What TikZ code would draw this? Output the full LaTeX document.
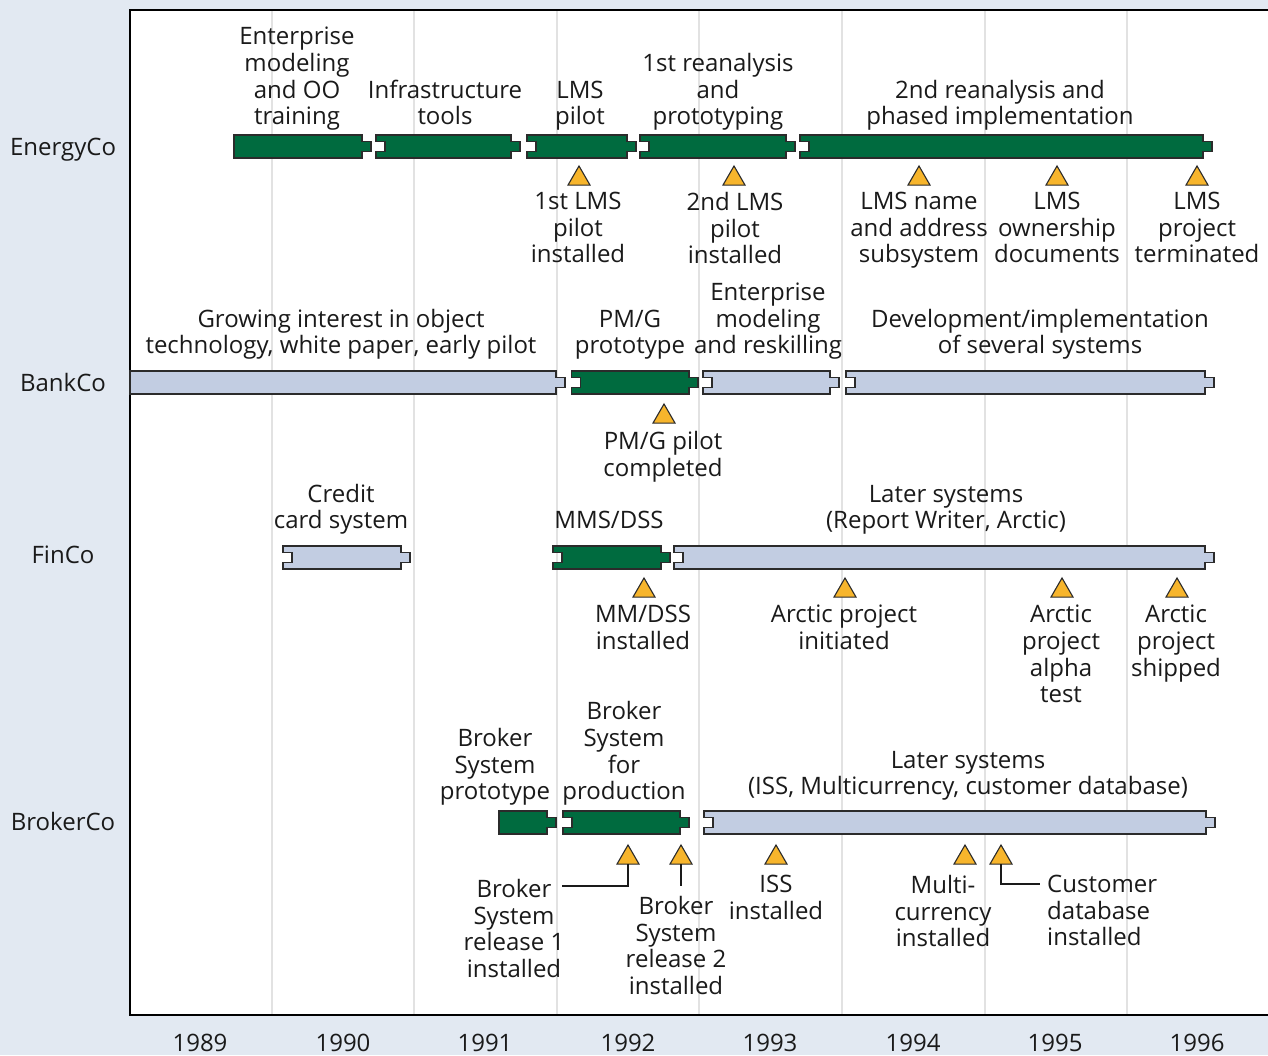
\documentclass[tikz,border=0pt]{standalone}
\usepackage{fontspec}
\setmainfont{Open Sans}
\usetikzlibrary{shapes.geometric}
\definecolor{bargreen}{HTML}{006B3F}
\definecolor{barlight}{HTML}{C2CDE2}
\definecolor{triyellow}{HTML}{F7B52C}
\definecolor{paper}{HTML}{E2E9F2}
\definecolor{gridgray}{HTML}{E2E2E2}
\definecolor{ink}{HTML}{1A1A1A}
\definecolor{edge}{HTML}{2B2B2B}
% notched-left bar: #1 style, #2 left x, #3 body right x, #4 centre y
\newcommand\pzbar[4]{%
  \filldraw[#1] (#2,#4-11.5) -- (#3,#4-11.5) -- (#3,#4-5) -- (#3+9,#4-5) -- (#3+9,#4+5) -- (#3,#4+5) -- (#3,#4+11.5) -- (#2,#4+11.5) -- (#2,#4+5) -- (#2+9,#4+5) -- (#2+9,#4-5) -- (#2,#4-5) -- cycle;}
% flat-left bar
\newcommand\pzflat[4]{%
  \filldraw[#1] (#2,#4-11.5) -- (#3,#4-11.5) -- (#3,#4-5) -- (#3+9,#4-5) -- (#3+9,#4+5) -- (#3,#4+5) -- (#3,#4+11.5) -- (#2,#4+11.5) -- cycle;}
\begin{document}
\begin{tikzpicture}[x=1pt,y=-1pt,
  lab/.style={font=\fontsize{24}{26.7}\selectfont, text=ink, align=center, inner sep=0pt,
    execute at begin node=\strut, execute at end node=\strut},
  rowlab/.style={font=\fontsize{24}{26.7}\selectfont, text=ink, inner sep=0pt, anchor=base},
  marker/.style={regular polygon, regular polygon sides=3, minimum size=25.4pt, inner sep=0pt,
    outer sep=0pt, fill=triyellow, draw=edge, line width=1.1pt},
  gbar/.style={fill=bargreen, draw=edge, line width=1.3pt},
  lbar/.style={fill=barlight, draw=edge, line width=1.3pt},
  conn/.style={draw=ink, line width=1.3pt},
  gridline/.style={draw=gridgray, line width=1.2pt}]
\useasboundingbox (0,0) rectangle (1268,1055);
\fill[paper] (0,0) rectangle (1268,1055);
\fill[white] (130,10) rectangle (1268,1015);
\foreach \gx in {272,414,557,699,842,985,1127}
  \draw[gridline] (\gx,10) -- (\gx,1015);
\draw[black, line width=1.6pt] (1268,10) -- (130,10) -- (130,1015) -- (1268,1015);

% ---------- EnergyCo ----------
\node[rowlab] (rE) at (63,155.5) {EnergyCo};
\pzflat{gbar}{234}{362}{146.5}
\pzbar{gbar}{376}{511}{146.5}
\pzbar{gbar}{527}{627}{146.5}
\pzbar{gbar}{640}{786}{146.5}
\pzbar{gbar}{800}{1203}{146.5}
\node[lab, anchor=south] (e1) at (297,133) {Enterprise\\modeling\\and OO\\training};
\node[lab, anchor=south] (e2) at (445,133) {Infrastructure\\tools};
\node[lab, anchor=south] (e3) at (580,133) {LMS\\pilot};
\node[lab, anchor=south] (e4) at (718,133) {1st reanalysis\\and\\prototyping};
\node[lab, anchor=south] (e5) at (1000,133) {2nd reanalysis and\\phased implementation};
\node[marker] (te1) at (579,178.7) {};
\node[marker] (te2) at (734,178.7) {};
\node[marker] (te3) at (919,178.7) {};
\node[marker] (te4) at (1057,178.7) {};
\node[marker] (te5) at (1197,178.7) {};
\node[lab, anchor=north] (me1) at (578,192) {1st LMS\\pilot\\installed};
\node[lab, anchor=north] (me2) at (735,192) {2nd LMS\\pilot\\installed};
\node[lab, anchor=north] (me3) at (919,192) {LMS name\\and address\\subsystem};
\node[lab, anchor=north] (me4) at (1057,192) {LMS\\ownership\\documents};
\node[lab, anchor=north] (me5) at (1197,192) {LMS\\project\\terminated};

% ---------- BankCo ----------
\node[rowlab] (rB) at (63,391.5) {BankCo};
\pzflat{lbar}{130}{556}{382.5}
\pzbar{gbar}{571.5}{689}{382.5}
\pzbar{lbar}{703}{830}{382.5}
\pzbar{lbar}{846}{1205}{382.5}
\node[lab, anchor=south] (b1) at (341,362) {Growing interest in object\\technology, white paper, early pilot};
\node[lab, anchor=south] (b2) at (630,362) {PM/G\\prototype};
\node[lab, anchor=south] (b3) at (768,362) {Enterprise\\modeling\\and reskilling};
\node[lab, anchor=south] (b4) at (1040,362) {Development/implementation\\of several systems};
\node[marker] (tb1) at (664,416.7) {};
\node[lab, anchor=north] (mb1) at (663,431) {PM/G pilot\\completed};

% ---------- FinCo ----------
\node[rowlab] (rF) at (63,563.5) {FinCo};
\pzbar{lbar}{283}{401}{557.5}
\pzbar{gbar}{553}{661}{557.5}
\pzbar{lbar}{674}{1205}{557.5}
\node[lab, anchor=south] (f1) at (341,537) {Credit\\card system};
\node[lab, anchor=south] (f2) at (609,537) {MMS/DSS};
\node[lab, anchor=south] (f3) at (946,537) {Later systems\\(Report Writer, Arctic)};
\node[marker] (tf1) at (644,590.7) {};
\node[marker] (tf2) at (845,590.7) {};
\node[marker] (tf3) at (1062,590.7) {};
\node[marker] (tf4) at (1177,590.7) {};
\node[lab, anchor=north] (mf1) at (643,605) {MM/DSS\\installed};
\node[lab, anchor=north] (mf2) at (844,605) {Arctic project\\initiated};
\node[lab, anchor=north] (mf3) at (1061,605) {Arctic\\project\\alpha\\test};
\node[lab, anchor=north] (mf4) at (1176,605) {Arctic\\project\\shipped};

% ---------- BrokerCo ----------
\node[rowlab] (rK) at (63,830.5) {BrokerCo};
\pzflat{gbar}{499}{547}{822.5}
\pzbar{gbar}{563}{680}{822.5}
\pzbar{lbar}{704}{1206}{822.5}
\node[lab, anchor=south] (k1) at (495,808) {Broker\\System\\prototype};
\node[lab, anchor=south] (k2) at (624,808) {Broker\\System\\for\\production};
\node[lab, anchor=south] (k3) at (968,803) {Later systems\\(ISS, Multicurrency, customer database)};
\node[marker] (tk1) at (628,857.7) {};
\node[marker] (tk2) at (681,857.7) {};
\node[marker] (tk3) at (776,857.7) {};
\node[marker] (tk4) at (965,857.7) {};
\node[marker] (tk5) at (1001,857.7) {};
\node[lab, anchor=north] (mk1) at (514,879) {Broker\\System\\release 1\\installed};
\node[lab, anchor=north] (mk2) at (676,896) {Broker\\System\\release 2\\installed};
\node[lab, anchor=north] (mk3) at (776,875) {ISS\\installed};
\node[lab, anchor=north] (mk4) at (943,875) {Multi-\\currency\\installed};
\node[lab, anchor=north west, align=left] (mk5) at (1047,875) {Customer\\database\\installed};
\coordinate (ck1) at (562,886);
\coordinate (ck2) at (681,886);
\coordinate (ck5) at (1040,884);
\draw[conn] (tk1.south) |- (ck1);
\draw[conn] (tk2.south) -- (ck2);
\draw[conn] (tk5.south) |- (ck5);

% ---------- years ----------
\foreach \yx/\yr in {200/1989,343/1990,485/1991,628/1992,770/1993,913/1994,1055/1995,1197/1996}
  \node[rowlab] (y\yr) at (\yx,1051) {\yr};
\end{tikzpicture}
\end{document}
